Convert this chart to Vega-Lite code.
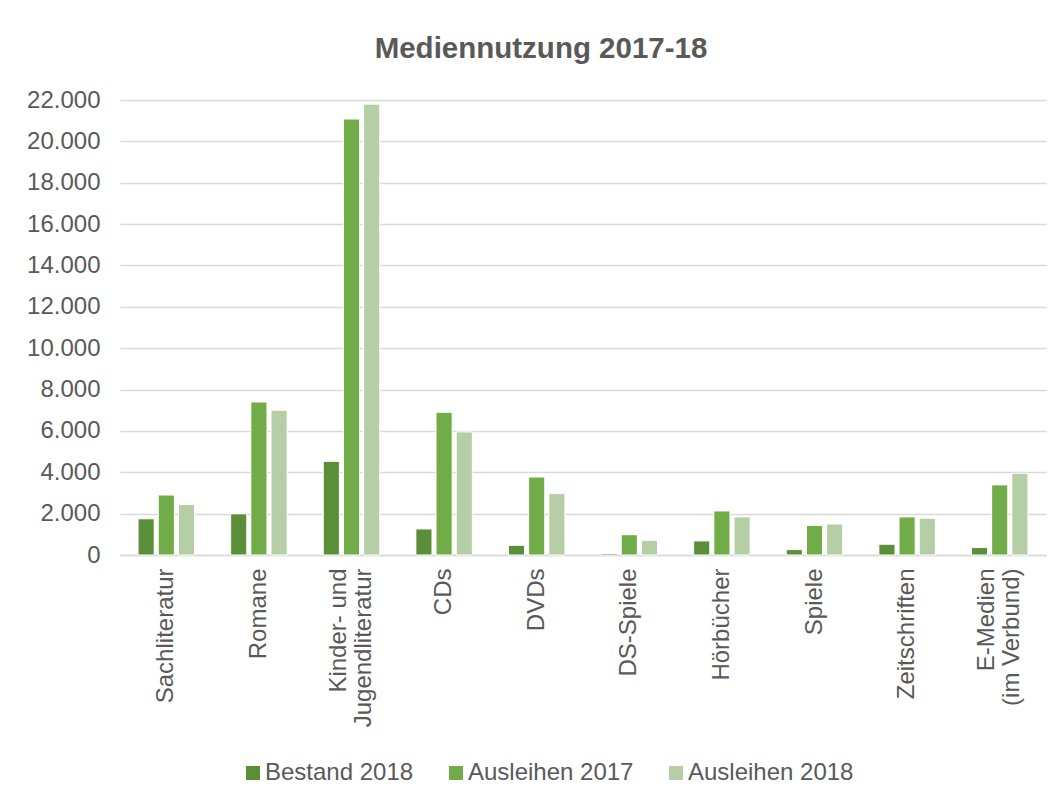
{
  "$schema": "https://vega.github.io/schema/vega-lite/v6.json",
  "autosize": {"type": "none"},
  "padding": {"left": 120, "top": 100, "right": 14, "bottom": 241},
  "width": 926,
  "height": 455,
  "background": "white",
  "title": {
    "text": "Mediennutzung 2017-18",
    "font": "Liberation Sans",
    "fontSize": 29.5,
    "fontWeight": "bold",
    "color": "#595959",
    "anchor": "middle",
    "dx": -42,
    "offset": 24
  },
  "data": {
    "values": [
      {"Kategorie": "Sachliteratur", "Reihe": "Bestand 2018", "Wert": 1750},
      {"Kategorie": "Sachliteratur", "Reihe": "Ausleihen 2017", "Wert": 2900},
      {"Kategorie": "Sachliteratur", "Reihe": "Ausleihen 2018", "Wert": 2440},
      {"Kategorie": "Romane", "Reihe": "Bestand 2018", "Wert": 1990},
      {"Kategorie": "Romane", "Reihe": "Ausleihen 2017", "Wert": 7400},
      {"Kategorie": "Romane", "Reihe": "Ausleihen 2018", "Wert": 7000},
      {"Kategorie": "Kinder- und Jugendliteratur", "Reihe": "Bestand 2018", "Wert": 4530},
      {"Kategorie": "Kinder- und Jugendliteratur", "Reihe": "Ausleihen 2017", "Wert": 21080},
      {"Kategorie": "Kinder- und Jugendliteratur", "Reihe": "Ausleihen 2018", "Wert": 21800},
      {"Kategorie": "CDs", "Reihe": "Bestand 2018", "Wert": 1260},
      {"Kategorie": "CDs", "Reihe": "Ausleihen 2017", "Wert": 6900},
      {"Kategorie": "CDs", "Reihe": "Ausleihen 2018", "Wert": 5950},
      {"Kategorie": "DVDs", "Reihe": "Bestand 2018", "Wert": 470},
      {"Kategorie": "DVDs", "Reihe": "Ausleihen 2017", "Wert": 3770},
      {"Kategorie": "DVDs", "Reihe": "Ausleihen 2018", "Wert": 2970},
      {"Kategorie": "DS-Spiele", "Reihe": "Bestand 2018", "Wert": 70},
      {"Kategorie": "DS-Spiele", "Reihe": "Ausleihen 2017", "Wert": 980},
      {"Kategorie": "DS-Spiele", "Reihe": "Ausleihen 2018", "Wert": 710},
      {"Kategorie": "Hörbücher", "Reihe": "Bestand 2018", "Wert": 680},
      {"Kategorie": "Hörbücher", "Reihe": "Ausleihen 2017", "Wert": 2130},
      {"Kategorie": "Hörbücher", "Reihe": "Ausleihen 2018", "Wert": 1840},
      {"Kategorie": "Spiele", "Reihe": "Bestand 2018", "Wert": 260},
      {"Kategorie": "Spiele", "Reihe": "Ausleihen 2017", "Wert": 1430},
      {"Kategorie": "Spiele", "Reihe": "Ausleihen 2018", "Wert": 1500},
      {"Kategorie": "Zeitschriften", "Reihe": "Bestand 2018", "Wert": 520},
      {"Kategorie": "Zeitschriften", "Reihe": "Ausleihen 2017", "Wert": 1840},
      {"Kategorie": "Zeitschriften", "Reihe": "Ausleihen 2018", "Wert": 1780},
      {"Kategorie": "E-Medien (im Verbund)", "Reihe": "Bestand 2018", "Wert": 360},
      {"Kategorie": "E-Medien (im Verbund)", "Reihe": "Ausleihen 2017", "Wert": 3390},
      {"Kategorie": "E-Medien (im Verbund)", "Reihe": "Ausleihen 2018", "Wert": 3950}
    ]
  },
  "mark": {"type": "bar", "stroke": "#ffffff", "strokeWidth": 1},
  "encoding": {
    "x": {
      "field": "Kategorie",
      "type": "nominal",
      "sort": ["Sachliteratur", "Romane", "Kinder- und Jugendliteratur", "CDs", "DVDs", "DS-Spiele", "Hörbücher", "Spiele", "Zeitschriften", "E-Medien (im Verbund)"],
      "scale": {"paddingInner": 0.39, "paddingOuter": 0.195},
      "axis": {
        "title": null,
        "labelAngle": -90,
        "labelAlign": "right",
        "labelBaseline": "middle",
        "labelFont": "Liberation Sans",
        "labelFontSize": 24,
        "labelColor": "#595959",
        "labelPadding": 13,
        "labelLineHeight": 25,
        "labelOffset": {
          "condition": {"test": "datum.value == 'Kinder- und Jugendliteratur' || datum.value == 'E-Medien (im Verbund)'", "value": -12.5},
          "value": 0
        },
        "labelExpr": "datum.label == 'Kinder- und Jugendliteratur' ? ['Kinder- und', 'Jugendliteratur'] : datum.label == 'E-Medien (im Verbund)' ? ['E-Medien', '(im Verbund)'] : datum.label",
        "ticks": false,
        "domainColor": "#D9D9D9",
        "domainWidth": 1.5,
        "grid": false
      }
    },
    "xOffset": {
      "field": "Reihe",
      "type": "nominal",
      "sort": ["Bestand 2018", "Ausleihen 2017", "Ausleihen 2018"],
      "scale": {"paddingInner": 0.2, "paddingOuter": 0}
    },
    "y": {
      "field": "Wert",
      "type": "quantitative",
      "scale": {"domain": [0, 22000], "nice": false},
      "axis": {
        "title": null,
        "values": [0, 2000, 4000, 6000, 8000, 10000, 12000, 14000, 16000, 18000, 20000, 22000],
        "labelExpr": "replace(format(datum.value, ','), ',', '.')",
        "labelFont": "Liberation Sans",
        "labelFontSize": 24,
        "labelColor": "#595959",
        "labelPadding": 20,
        "ticks": false,
        "domain": false,
        "gridColor": "#D9D9D9",
        "gridWidth": 1.5
      }
    },
    "color": {
      "field": "Reihe",
      "type": "nominal",
      "sort": ["Bestand 2018", "Ausleihen 2017", "Ausleihen 2018"],
      "scale": {
        "domain": ["Bestand 2018", "Ausleihen 2017", "Ausleihen 2018"],
        "range": ["#5B8E38", "#71AC48", "#B6CEA6"]
      },
      "legend": {
        "title": null,
        "orient": "none",
        "direction": "horizontal",
        "legendX": 121,
        "legendY": 661,
        "symbolType": "square",
        "symbolSize": 196,
        "symbolStrokeWidth": 0,
        "labelFont": "Liberation Sans",
        "labelFontSize": 24,
        "labelColor": "#595959",
        "labelOffset": 0,
        "labelLimit": 400,
        "columnPadding": 30
      }
    }
  },
  "config": {
    "view": {"stroke": null}
  }
}
